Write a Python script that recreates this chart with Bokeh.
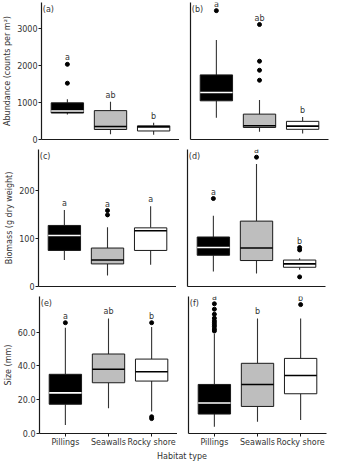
from bokeh.plotting import figure
from bokeh.layouts import column, row
from bokeh.models import Range1d, FixedTicker, NumeralTickFormatter, Label
from bokeh.core.properties import value
from bokeh.embed import file_html
from bokeh.resources import INLINE

categories = ["Pillings", "Seawalls", "Rocky shore"]
fills = ["#000000", "#bebebe", "#ffffff"]
median_colors = ["#ffffff", "#000000", "#000000"]

# (a) abundance, left
a_lo = [675, 140, 130]
a_q1 = [715, 270, 230]
a_med = [770, 350, 340]
a_q3 = [990, 780, 370]
a_hi = [1090, 1020, 450]
a_out = [[1520, 2030], [], []]
a_let = ["a", "ab", "b"]

# (b) abundance, right
b_lo = [590, 210, 165]
b_q1 = [1045, 325, 275]
b_med = [1270, 370, 360]
b_q3 = [1745, 685, 490]
b_hi = [2690, 1070, 605]
b_out = [[3480], [1600, 1870, 2115, 3105], []]
b_let = ["a", "ab", "b"]

# (c) biomass, left
c_lo = [55, 23, 45]
c_q1 = [75, 47, 75]
c_med = [106, 55, 116]
c_q3 = [127, 80, 122]
c_hi = [159, 123, 167]
c_out = [[], [149, 158], []]
c_let = ["a", "a", "a"]

# (d) biomass, right
d_lo = [31, 27, 35]
d_q1 = [65, 54, 40]
d_med = [81, 80, 47]
d_q3 = [103, 136, 55]
d_hi = [147, 255, 59]
d_out = [[183], [269], [76, 81, 20]]
d_let = ["a", "a", "b"]

# (e) size, left
e_lo = [5, 15, 13]
e_q1 = [17.3, 30, 31]
e_med = [24, 38, 36.5]
e_q3 = [35, 47, 44]
e_hi = [62.5, 68, 63]
e_out = [[65.5], [], [65.5, 8.8, 9.9]]
e_let = ["a", "ab", "b"]

# (f) size, right
f_lo = [4, 7, 8]
f_q1 = [11.5, 16, 23.5]
f_med = [18, 29, 34.3]
f_q3 = [29, 41.5, 44.4]
f_hi = [59, 68, 68]
f_out = [[60.6, 61.7, 63.2, 64.3, 65.5, 66.6, 68.2, 70.5, 73.5, 76.7], [], [76.2]]
f_let = ["a", "b", "b"]

abund_ticks = [0, 1000, 2000, 3000]
biom_ticks = [0, 100, 200]
size_ticks = [0, 20, 40, 60]

FONT = "DejaVu Sans"
FRAME_W = 138
FRAME_H = 137
LEFT_B = 38
GAP = 11
RIGHT_B = 2
BOX_W = 0.75
TXT = "#333333"


def panel(tag, lo, q1, med, q3, hi, outs, lets, ymax, ticks, fmt,
          left, bottom, ylabel=None):
    p = figure(output_backend="svg", toolbar_location=None,
               frame_width=FRAME_W, frame_height=FRAME_H,
               x_range=Range1d(0.4, 3.6), y_range=Range1d(0, ymax),
               min_border_left=LEFT_B if left else GAP,
               min_border_right=0 if left else RIGHT_B,
               min_border_top=2, min_border_bottom=14 if bottom else 8)
    p.xgrid.visible = False
    p.ygrid.visible = False
    p.outline_line_color = None
    p.background_fill_color = "white"
    p.border_fill_color = "white"

    xs = [i + 1 for i in range(len(categories))]
    # whiskers
    p.segment(x0=xs, x1=xs, y0=q3, y1=hi, line_color="#333333", line_width=1.1)
    p.segment(x0=xs, x1=xs, y0=q1, y1=lo, line_color="#333333", line_width=1.1)
    # boxes
    p.vbar(x=xs, width=BOX_W, bottom=q1, top=q3, fill_color=fills,
           line_color="#1a1a1a", line_width=1)
    # medians
    p.segment(x0=[x - BOX_W / 2 for x in xs], x1=[x + BOX_W / 2 for x in xs],
              y0=med, y1=med, line_color=median_colors, line_width=1.6)
    # outliers
    ox, oy = [], []
    for x, o in zip(xs, outs):
        ox += [x] * len(o)
        oy += o
    p.scatter(x=ox, y=oy, size=4, fill_color="black", line_color="black")
    # letters
    tops = [max([h] + o) for h, o in zip(hi, outs)]
    p.text(x=xs, y=tops, text=lets, text_font=value(FONT), text_font_size="8px",
           text_align="center", text_baseline="bottom", y_offset=-2,
           text_color=TXT)
    # panel tag
    p.text(x=[0.43], y=[ymax], text=[tag], text_font=value(FONT),
           text_font_size="8px", text_align="left", text_baseline="top",
           y_offset=2, text_color=TXT)

    # axes
    for ax in (p.xaxis, p.yaxis):
        ax.axis_line_color = "#1a1a1a"
        ax.axis_line_width = 1.2
        ax.minor_tick_line_color = None
        ax.major_tick_in = 0
        ax.major_tick_out = 3
        ax.major_tick_line_color = "#1a1a1a"
        ax.major_label_text_font = FONT
        ax.major_label_text_font_size = "8px"
        ax.major_label_text_color = TXT
        ax.major_label_standoff = 1
        ax.axis_label_text_font = FONT
        ax.axis_label_text_font_size = "8px"
        ax.axis_label_text_font_style = "normal"
        ax.axis_label_text_color = TXT
        ax.axis_label_standoff = 2

    if bottom:
        p.xaxis.ticker = FixedTicker(ticks=xs, minor_ticks=[])
        p.xaxis.major_label_overrides = {x: c for x, c in zip(xs, categories)}
    else:
        p.xaxis.ticker = FixedTicker(ticks=[], minor_ticks=[])

    if left:
        p.yaxis.ticker = FixedTicker(ticks=ticks, minor_ticks=[])
        p.yaxis.formatter = NumeralTickFormatter(format=fmt)
        if ylabel:
            p.yaxis.axis_label = ylabel
    else:
        p.yaxis.ticker = FixedTicker(ticks=[], minor_ticks=[])
    return p


pa = panel("(a)", a_lo, a_q1, a_med, a_q3, a_hi, a_out, a_let, 3700,
           abund_ticks, "0", True, False, "Abundance (counts per m²)")
pb = panel("(b)", b_lo, b_q1, b_med, b_q3, b_hi, b_out, b_let, 3700,
           abund_ticks, "0", False, False)
pc = panel("(c)", c_lo, c_q1, c_med, c_q3, c_hi, c_out, c_let, 285,
           biom_ticks, "0", True, False, "Biomass (g dry weight)")
pd = panel("(d)", d_lo, d_q1, d_med, d_q3, d_hi, d_out, d_let, 285,
           biom_ticks, "0", False, False)
pe = panel("(e)", e_lo, e_q1, e_med, e_q3, e_hi, e_out, e_let, 81,
           size_ticks, "0.0", True, True, "Size (mm)")
pf = panel("(f)", f_lo, f_q1, f_med, f_q3, f_hi, f_out, f_let, 81,
           size_ticks, "0.0", False, True)

TOTAL_W = LEFT_B + FRAME_W + GAP + FRAME_W + RIGHT_B
footer = figure(output_backend="svg", toolbar_location=None,
                width=TOTAL_W, height=14, x_axis_location=None,
                y_axis_location=None, min_border=0,
                x_range=Range1d(0, TOTAL_W), y_range=Range1d(0, 14))
footer.outline_line_color = None
footer.xgrid.visible = False
footer.ygrid.visible = False
footer.add_layout(Label(x=LEFT_B + (2 * FRAME_W + GAP) / 2, y=7,
                        text="Habitat type", text_align="center",
                        text_baseline="middle", text_font=FONT,
                        text_font_size="8px", text_color=TXT))

layout = column(row(pa, pb), row(pc, pd), row(pe, pf), footer)

open("out.html", "w").write(file_html(layout, INLINE))
